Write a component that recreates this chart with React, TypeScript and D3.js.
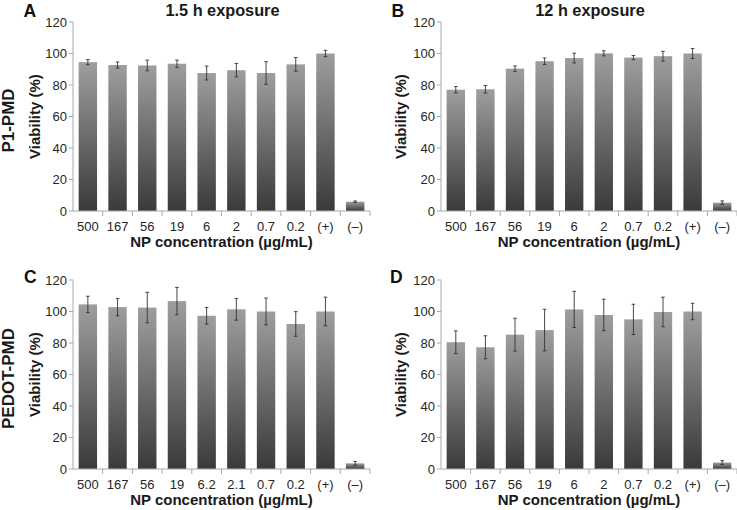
import React from "react";
import * as d3 from "d3";

const categoriesTop = ["500", "167", "56", "19", "6", "2", "0.7", "0.2", "(+)", "(–)"];
const categoriesC = ["500", "167", "56", "19", "6.2", "2.1", "0.7", "0.2", "(+)", "(–)"];
const categoriesD = ["500", "167", "56", "19", "6", "2", "0.7", "0.2", "(+)", "(–)"];

const valuesA = [94.5, 92.7, 92.4, 93.5, 87.6, 89.4, 87.6, 93.1, 100, 5.9];
const errorsA = [1.6, 1.9, 3.4, 2.3, 4.4, 4.3, 7.2, 4.3, 2.0, 0.5];

const valuesB = [77.0, 77.3, 90.4, 95.1, 97.1, 100.1, 97.4, 98.3, 100, 5.3];
const errorsB = [2.0, 2.4, 1.7, 2.1, 3.1, 1.6, 1.3, 3.1, 3.2, 1.1];

const valuesC = [104.5, 102.8, 102.5, 106.6, 97.3, 101.4, 100.0, 92.1, 100, 3.6];
const errorsC = [5.2, 5.5, 9.7, 8.7, 5.3, 6.9, 8.5, 7.8, 9.1, 1.2];

const valuesD = [80.5, 77.3, 85.3, 88.2, 101.3, 97.8, 95.0, 99.7, 100, 4.1];
const errorsD = [7.2, 7.3, 10.4, 13.2, 11.5, 10.0, 9.6, 9.4, 5.2, 1.2];

const yTicks = [0, 20, 40, 60, 80, 100, 120];

const FONT = "'Liberation Sans', Arial, sans-serif";

type PanelProps = {
  letter: string;
  title?: string;
  rowLabel?: string;
  cats: string[];
  vals: number[];
  errs: number[];
  left: number;
  right: number;
  top: number;
  bottom: number;
  labelX: number;
  rowLabelX?: number;
  letterX: number;
  letterY: number;
  gradId: string;
};

function Panel(p: PanelProps) {
  const x = d3.scaleBand<string>().domain(p.cats.map((c, i) => String(i))).range([p.left, p.right]).paddingInner(0.38).paddingOuter(0.19);
  const band = d3.scaleBand<string>().domain(p.cats.map((c, i) => String(i))).range([p.left, p.right]);
  const y = d3.scaleLinear().domain([0, 120]).range([p.bottom, p.top]);
  const axisColor = "#a8a8a8";
  const midY = (p.top + p.bottom) / 2;
  return (
    <g>
      {p.cats.map((c, i) => {
        const v = p.vals[i];
        const e = p.errs[i];
        const bx = x(String(i))!;
        const bw = x.bandwidth();
        const cx = bx + bw / 2;
        return (
          <g key={i}>
            <rect x={bx} y={y(v)} width={bw} height={y(0) - y(v)} fill={`url(#${p.gradId})`} />
            <line x1={cx} x2={cx} y1={y(v + e)} y2={y(v - e)} stroke="#333" strokeWidth={0.9} />
            <line x1={cx - 1.8} x2={cx + 1.8} y1={y(v + e)} y2={y(v + e)} stroke="#333" strokeWidth={0.9} />
            <line x1={cx - 1.8} x2={cx + 1.8} y1={y(v - e)} y2={y(v - e)} stroke="#333" strokeWidth={0.9} />
          </g>
        );
      })}
      <line x1={p.left} x2={p.left} y1={y(120)} y2={y(0)} stroke={axisColor} strokeWidth={1} />
      <line x1={p.left} x2={p.right} y1={y(0)} y2={y(0)} stroke={axisColor} strokeWidth={1} />
      {yTicks.map((t) => (
        <g key={t}>
          <line x1={p.left - 4} x2={p.left} y1={y(t)} y2={y(t)} stroke={axisColor} strokeWidth={1} />
          <text x={p.left - 6} y={y(t) + 4.5} textAnchor="end" fontSize={13} fill="#262626" fontFamily={FONT}>
            {t}
          </text>
        </g>
      ))}
      {p.cats.map((c, i) => {
        const bx = band(String(i))!;
        return (
          <g key={"t" + i}>
            <line x1={bx + band.bandwidth()} x2={bx + band.bandwidth()} y1={y(0)} y2={y(0) + 5} stroke={axisColor} strokeWidth={1} />
            <text x={bx + band.bandwidth() / 2} y={y(0) + 20} textAnchor="middle" fontSize={13} fill="#262626" fontFamily={FONT}>
              {c}
            </text>
          </g>
        );
      })}
      <text x={(p.left + p.right) / 2} y={y(0) + 35.5} textAnchor="middle" fontSize={15} fontWeight="bold" fill="#1a1a1a" fontFamily={FONT}>
        NP concentration (µg/mL)
      </text>
      <text transform={`translate(${p.labelX},${midY}) rotate(-90)`} textAnchor="middle" fontSize={15} fontWeight="bold" fill="#1a1a1a" fontFamily={FONT}>
        Viability (%)
      </text>
      {p.rowLabel && (
        <text transform={`translate(${p.rowLabelX},${midY + 4}) rotate(-90)`} textAnchor="middle" fontSize={17} fontWeight="bold" fill="#1a1a1a" fontFamily={FONT}>
          {p.rowLabel}
        </text>
      )}
      {p.title && (
        <text x={(p.left + p.right) / 2 + 1} y={16} textAnchor="middle" fontSize={16.3} fontWeight="bold" fill="#1a1a1a" fontFamily={FONT}>
          {p.title}
        </text>
      )}
      <text x={p.letterX} y={p.letterY} fontSize={17.5} fontWeight="bold" fill="#111" fontFamily={FONT}>
        {p.letter}
      </text>
    </g>
  );
}

export default function App() {
  return (
    <svg width={737} height={510} style={{ position: "absolute", left: 0, top: 0, background: "#fff" }}>
      <defs>
        <linearGradient id="barGrad" x1="0" y1="0" x2="0" y2="1">
          <stop offset="0%" stopColor="#9e9e9e" />
          <stop offset="100%" stopColor="#3a3a3a" />
        </linearGradient>
      </defs>
      <Panel letter="A" title="1.5 h exposure" rowLabel="P1-PMD" cats={categoriesTop} vals={valuesA} errs={errorsA}
        left={73} right={370} top={22} bottom={211} labelX={40} rowLabelX={14} letterX={23.5} letterY={16.5} gradId="barGrad" />
      <Panel letter="B" title="12 h exposure" cats={categoriesTop} vals={valuesB} errs={errorsB}
        left={441} right={737} top={22} bottom={211} labelX={406} letterX={391.5} letterY={16.5} gradId="barGrad" />
      <Panel letter="C" rowLabel="PEDOT-PMD" cats={categoriesC} vals={valuesC} errs={errorsC}
        left={73} right={370} top={280} bottom={469} labelX={40} rowLabelX={14} letterX={24} letterY={283} gradId="barGrad" />
      <Panel letter="D" cats={categoriesD} vals={valuesD} errs={errorsD}
        left={441} right={737} top={280} bottom={469} labelX={406} letterX={390} letterY={283} gradId="barGrad" />
    </svg>
  );
}
